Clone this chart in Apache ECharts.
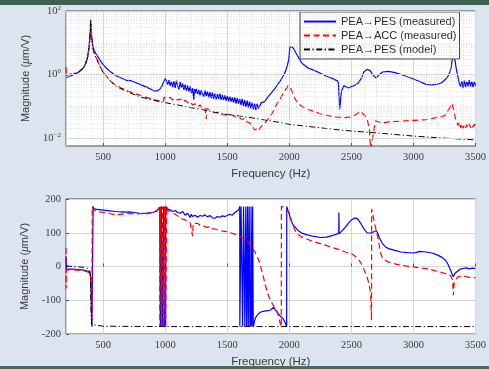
<!DOCTYPE html>
<html><head><meta charset="utf-8">
<script src="https://cdn.jsdelivr.net/npm/echarts@6/dist/echarts.min.js"></script>
<style>html,body{margin:0;padding:0;background:#dce5ef;}#c{width:489px;height:369px;}</style>
</head><body><div id="c"></div>
<script>
const seriesNames = ['PEA→PES (measured)', 'PEA→ACC (measured)', 'PEA→PES (model)'];

// Frequency tick labels / grid
const freqMajorTicks = [500, 1000, 1500, 2000, 2500, 3000, 3500];
const freqMinorGrid = [300,400,600,700,800,900,1100,1200,1300,1400,1600,1700,1800,1900,2100,2200,2300,2400,2600,2700,2800,2900,3100,3200,3300,3400];
const magMajorGrid = [0.01, 1, 100];
const magMinorGrid = [0.006,0.007,0.008,0.009,0.02,0.03,0.04,0.05,0.06,0.07,0.08,0.09,0.1,0.2,0.3,0.4,0.5,0.6,0.7,0.8,0.9,2,3,4,5,6,7,8,9,10,20,30,40,50,60,70,80,90];
const phaseTicks = [-200, -100, 0, 100, 200];

// ---- Magnitude: PEA->PES measured (blue)
const blueMagFreq = [200,250,300,340,360,375,385,393,398,400,403,408,415,425,440,460,480,500,525,550,575,600,650,690,700,720,760,800,850,880,900,920,940,960,975,990,1000,1005,
1010,1020,1030,1040,1050,1060,1070,1080,1090,1100,1110,1120,1130,1140,1150,1160,1170,1180,1190,1200,1210,1220,1230,1235,1240,1250,1260,1270,1280,1290,1300,1310,1320,1330,1340,1350,1360,1370,1380,1390,1400,1410,1420,1430,1440,1450,1460,1470,1480,1490,1500,1510,1520,1530,1540,1550,1560,1570,1580,1590,1600,1610,1620,1630,1640,1650,1660,1670,1680,1690,1700,1710,1720,1730,1740,1750,
1775,1800,1825,1850,1875,1900,1925,1950,1970,1985,1995,2000,2005,2015,2030,2050,2075,2100,2150,2200,2250,2300,2350,2390,2395,2398,2401,2405,2420,2440,2460,2480,2500,2525,2550,2575,2590,2600,2605,2610,2625,2650,2675,2700,2720,2750,2800,2850,2900,2950,3000,3050,3100,3150,3200,3230,3260,3280,3295,3305,3310,3315,3325,3335,3345,3360,3370,3380,3390,3400,3410,3420,3430,3440,3450,3460,3470,3480,3490,3500];
const blueMagVal = [0.79,0.95,1.17,1.6,2.3,3.6,6.5,14,30,40,26,13,8.5,6.0,4.6,3.5,2.6,2.05,1.6,1.3,1.1,0.92,0.76,0.65,0.68,0.64,0.56,0.48,0.40,0.35,0.32,0.30,0.31,0.36,0.45,0.62,0.75,0.66,
0.62,0.48,0.66,0.44,0.60,0.40,0.62,0.38,0.64,0.43,0.34,0.58,0.38,0.52,0.33,0.48,0.31,0.45,0.29,0.42,0.26,0.37,0.16,0.35,0.26,0.35,0.24,0.33,0.22,0.32,0.24,0.20,0.31,0.21,0.29,0.19,0.28,0.18,0.27,0.17,0.25,0.165,0.24,0.17,0.25,0.16,0.23,0.155,0.22,0.15,0.21,0.145,0.20,0.14,0.19,0.13,0.19,0.12,0.18,0.12,0.17,0.11,0.17,0.10,0.16,0.095,0.15,0.09,0.14,0.085,0.13,0.08,0.12,0.075,0.12,0.085,0.13,0.14,
0.19,0.25,0.33,0.45,0.62,0.9,1.3,2.0,3.0,5.0,7.5,8.2,7.0,5.0,3.3,2.3,1.6,1.35,1.1,0.88,0.74,0.62,0.52,0.46,0.2,0.08,0.3,0.45,0.40,0.38,0.42,0.45,0.52,0.7,0.95,1.2,1.3,1.25,1.45,1.35,0.95,0.78,0.95,1.2,1.25,1.15,1.0,0.85,0.72,0.6,0.49,0.47,0.50,0.56,0.72,0.9,1.25,1.7,2.6,3.6,4.0,2.8,1.5,0.8,0.5,0.42,0.62,0.38,0.64,0.40,0.60,0.42,0.66,0.42,0.60,0.40,0.58,0.44,0.62,0.46];

// ---- Magnitude: PEA->ACC measured (red)
const redMagFreq = [200,203,210,250,300,340,360,375,385,393,398,400,403,408,415,425,440,460,480,500,525,550,575,600,650,700,750,800,850,900,950,985,990,1000,1020,
1040,1060,1080,1100,1120,1140,1160,1180,1200,1220,1240,1260,1280,1300,1320,1330,1335,1350,1380,1400,1430,1460,1500,1530,1560,1600,1620,1640,1660,1680,1700,1710,1720,1730,1740,1750,1765,1780,1800,1825,1850,1875,1900,1925,1950,1975,1990,2000,2010,2025,2050,2075,2100,2150,2200,2250,2300,2350,2400,2450,2500,2525,2550,2575,2590,2610,2630,2645,2655,2665,2675,2685,2695,2705,2720,2750,2800,2900,3000,3100,3200,3250,3280,3300,3310,3320,3330,3340,3350,3360,3370,3380,3390,3400,3410,3420,3430,3440,3450,3460,3470,3480,3490,3500];
const redMagVal = [1.7,1.05,0.95,1.0,1.15,1.6,2.3,3.7,7,16,40,55,30,13,7.5,5,3.6,2.4,1.6,1.17,0.9,0.68,0.55,0.46,0.37,0.30,0.255,0.22,0.19,0.165,0.145,0.14,0.19,0.185,0.175,
0.19,0.16,0.18,0.155,0.17,0.14,0.155,0.13,0.14,0.11,0.12,0.095,0.11,0.085,0.09,0.04,0.085,0.078,0.07,0.062,0.066,0.055,0.052,0.055,0.047,0.043,0.038,0.042,0.032,0.030,0.024,0.026,0.018,0.016,0.020,0.017,0.021,0.025,0.029,0.038,0.052,0.075,0.12,0.17,0.25,0.36,0.45,0.47,0.38,0.26,0.16,0.12,0.098,0.08,0.068,0.058,0.052,0.047,0.045,0.044,0.047,0.052,0.06,0.068,0.066,0.05,0.035,0.018,0.0045,0.004,0.012,0.022,0.035,0.040,0.032,0.030,0.032,0.034,0.036,0.038,0.045,0.05,0.075,0.1,0.12,0.09,0.06,0.038,0.030,0.025,0.032,0.021,0.028,0.02,0.027,0.021,0.026,0.022,0.028,0.021,0.026,0.022,0.027,0.024];

// ---- Magnitude: PEA->PES model (black)
const modelMagFreq = [200,250,300,340,360,375,385,393,398,400,403,408,415,425,440,460,480,500,550,600,700,800,900,1000,1100,1200,1300,1400,1500,1600,1700,1800,1900,2000,2200,2400,2500,2700,3000,3200,3500];
const modelMagVal = [0.95,1.05,1.2,1.6,2.3,3.8,7,16,40,55,30,13,7.5,5,3.5,2.4,1.6,1.15,0.68,0.43,0.28,0.195,0.155,0.13,0.11,0.091,0.078,0.064,0.055,0.049,0.043,0.037,0.032,0.027,0.022,0.018,0.0166,0.0145,0.0115,0.0102,0.0087];

// ---- Phase: PEA->PES measured (blue)
const bluePhFreq = [200,203,210,250,300,350,380,395,400,403,406,409,418,418.5,425,450,500,550,600,650,690,700,710,750,800,850,900,930,945,955,960,961,967,968,975,976,985,986,992,993,1000,1003,1004,1010,1020,1040,1060,1080,1100,1120,1140,1160,1180,1200,1210,1220,1240,1260,1280,1300,1320,1340,1360,1380,1400,1420,1440,1460,1480,1500,1520,1540,1560,1580,1595,
1600,1601,1610,1611,1622,1623,1630,1631,1640,1641,1648,1649,1655,1656,1662,1663,1668,1669,1675,1676,1682,1683,1690,1691,1697,1698,1703,1704,1708,1709,1715,1720,1730,1740,1750,1775,1800,1825,1850,1870,1890,1910,1930,1950,1965,1978,1979,1985,1995,2010,2030,2050,2075,2100,2150,2200,2250,2300,2350,2380,2398,2399,2401,2420,2450,2475,2500,2525,2550,2575,2600,2625,2640,2660,2680,2700,2710,2725,2750,2775,2800,2850,2900,2950,3000,3010,3025,3050,3100,3150,3200,3230,3260,3280,3300,3320,3335,3350,3375,3400,3425,3450,3475,3500];
const bluePhVal = [30,-8,-10,-8,-9,-11,-14,-20,-35,-80,-150,-178,-178,178,172,169,167,165,163,162,161,165,162,160,157,158,160,164,170,176,178,-178,-178,178,178,-178,-178,178,178,-178,-150,-178,178,175,170,168,163,166,160,158,163,152,158,145,155,148,152,146,151,149,153,147,151,144,143,148,146,150,148,151,155,152,160,164,170,
178,-178,-175,178,176,-178,-176,178,178,-178,-176,178,177,-178,-175,178,178,-178,-176,178,177,-178,-172,178,178,-178,-177,178,178,-178,-170,-160,-150,-145,-140,-134,-132,-131,-129,-121,-130,-140,-148,-155,-165,-178,178,170,160,140,123,115,105,99,93,89,86,87,92,96,98,160,98,104,116,128,138,144,141,128,112,100,96,99,103,106,100,85,68,58,53,48,43,41,40,45,42,45,43,40,33,27,18,5,-12,-30,-20,-15,-8,-6,-4,-7,-5,-6];

// ---- Phase: PEA->ACC measured (red)
const redPhFreq = [200,201,203,210,250,300,350,380,395,400,403,406,409,411,411.5,420,450,500,550,600,650,700,750,800,850,900,930,950,955,956,962,963,970,971,978,979,986,987,994,995,1002,1003,1010,1011,1020,1040,1060,1080,1100,1120,1140,1160,1180,1200,1210,1220,1225,1240,1260,1280,1300,1320,1340,1360,1380,1400,1420,1440,1460,1480,1500,1520,1540,1560,1580,1600,1620,1640,1660,1680,1700,1720,1740,1760,1780,1800,1825,1850,1875,1900,1915,1925,1935,1936,1950,1965,1980,2000,2020,2050,2075,2100,2150,2200,2250,2300,2350,2400,2450,2500,2525,2550,2575,2600,2620,2640,2655,2662,2663,2670,2685,2700,2715,2735,2750,2775,2800,2850,2900,2950,3000,3050,3100,3150,3200,3250,3300,3315,3322,3328,3340,3360,3400,3450,3500];
const redPhVal = [55,-65,-10,-12,-10,-11,-13,-17,-25,-40,-90,-160,-178,-178,178,170,163,160,157,153,155,157,156,157,156,160,166,172,178,-178,-178,178,178,-178,-178,178,178,-178,-176,178,178,-178,-178,178,166,163,158,155,150,145,140,138,132,130,134,90,128,125,128,122,121,118,116,118,112,111,109,107,105,104,103,101,98,96,92,88,84,80,75,68,55,45,30,12,-15,-45,-80,-102,-118,-132,-150,-168,-178,178,176,174,170,158,130,104,94,87,80,73,68,62,56,50,43,38,32,24,12,-8,-25,-48,-80,-160,170,160,130,108,82,40,25,18,13,8,4,1,-1,-4,-6,-10,-15,-20,-27,-40,-85,-45,-38,-30,-28,-32,-33];

// ---- Phase: PEA->PES model (black)
const modelPhFreq = [200,250,300,350,380,392,397,400,403,408,420,500,1000,2000,3500];
const modelPhVal = [2,0,-1,-3,-6,-12,-40,-90,-150,-172,-176,-177,-178,-178,-178];

const zip = (f, v) => f.map((x, i) => [x, v[i]]);
const colors = ['#0000ff', '#ff0000', '#000000'];
const dashes = ['solid', [6, 3.5], [6, 2.5, 1.2, 2.5]];
const widths = [1.2, 1.2, 1];
const txt = '#3a3a3a';
const serif = 'Liberation Serif';
const sans = 'Liberation Sans';

function mkSeries(idx, data, axis) {
  return {
    name: seriesNames[idx], type: 'line', xAxisIndex: axis, yAxisIndex: axis,
    data: data, showSymbol: false, symbol: 'none', animation: false, clip: true, z: 3,
    lineStyle: { color: colors[idx], width: widths[idx], type: dashes[idx] },
    itemStyle: { color: colors[idx] }
  };
}

const gridLines = [];
magMinorGrid.forEach(v => gridLines.push({ yAxis: v, lineStyle: { color: '#cfcfcf', width: 0.6, type: [1, 1.5] } }));
freqMinorGrid.forEach(v => gridLines.push({ xAxis: v, lineStyle: { color: '#cfcfcf', width: 0.6, type: [1, 1.5] } }));
magMajorGrid.forEach(v => gridLines.push({ yAxis: v, lineStyle: { color: '#d6d6d6', width: 1, type: 'solid' } }));

const xAxisCommon = {
  type: 'value', min: 200, max: 3500,
  name: 'Frequency (Hz)', nameLocation: 'middle',
  nameTextStyle: { fontFamily: sans, fontSize: 11.5, color: txt },
  axisLine: { show: false },
  axisTick: { show: true, inside: true, length: 3, lineStyle: { color: '#555' } },
  axisLabel: {
    fontFamily: serif, fontSize: 10.5, color: txt, margin: 6, showMinLabel: false, showMaxLabel: true,
    formatter: v => (freqMajorTicks.indexOf(v) >= 0 ? String(v) : '')
  },
  splitLine: { show: true, lineStyle: { color: '#d6d6d6', width: 1 } }
};

const yName = 'Magnitude ({i|μ}m/V)';
const yNameStyle = { fontFamily: sans, fontSize: 11, color: txt, rich: { i: { fontFamily: serif, fontStyle: 'italic', fontSize: 11.5, color: txt } } };

const option = {
  backgroundColor: '#dce5ef',
  animation: false,
  grid: [
    { left: 66, top: 11, right: 4, height: 135, show: true, backgroundColor: '#fff', borderColor: '#4a4a4a', borderWidth: 1 },
    { left: 66, top: 199, right: 4, height: 136, show: true, backgroundColor: '#fff', borderColor: '#4a4a4a', borderWidth: 1 }
  ],
  legend: {
    data: seriesNames, orient: 'vertical', left: 300, top: 12,
    backgroundColor: '#fff', borderColor: '#333', borderWidth: 1, borderRadius: 0,
    padding: [4, 3, 4, 3], itemGap: 3, itemWidth: 32, itemHeight: 10,
    itemStyle: { opacity: 0 },
    textStyle: { fontFamily: sans, fontSize: 11, color: '#222' }, selectedMode: false
  },
  xAxis: [
    Object.assign({}, xAxisCommon, { gridIndex: 0, nameGap: 22 }),
    Object.assign({}, xAxisCommon, { gridIndex: 1, nameGap: 22 })
  ],
  yAxis: [
    {
      gridIndex: 0, type: 'log', logBase: 10, min: 0.0056, max: 100,
      name: yName, nameLocation: 'middle', nameGap: 31, nameTextStyle: yNameStyle,
      axisLine: { show: false }, axisTick: { show: false },
      splitLine: { show: false },
      axisLabel: {
        fontFamily: serif, fontSize: 10.5, color: txt, margin: 5,
        formatter: function (v) {
          const l = Math.log10(v), e = Math.round(l);
          if (Math.abs(l - e) > 1e-6 || e % 2 !== 0) return '';
          return '{b|10}{s|' + (e < 0 ? '−' : '') + Math.abs(e) + '}';
        },
        rich: { b: { fontFamily: serif, fontSize: 10.5, color: txt }, s: { fontFamily: serif, fontSize: 7, color: txt, verticalAlign: 'top', padding: [0, 0, 6, 0] } }
      }
    },
    {
      gridIndex: 1, type: 'value', min: -200, max: 200, interval: 100,
      name: yName, nameLocation: 'middle', nameGap: 31, nameTextStyle: yNameStyle,
      axisLine: { show: false },
      axisTick: { show: true, inside: true, length: 3, lineStyle: { color: '#555' } },
      splitLine: { show: true, lineStyle: { color: '#d6d6d6', width: 1 } },
      axisLabel: { fontFamily: serif, fontSize: 10.5, color: txt, margin: 5, formatter: v => (phaseTicks.indexOf(v) >= 0 ? String(v) : '') }
    }
  ],
  graphic: [
    { type: 'rect', z: 100, shape: { x: 0, y: 0, width: 489, height: 5 }, style: { fill: '#3f5f55' } },
    { type: 'rect', z: 100, shape: { x: 0, y: 366, width: 489, height: 3 }, style: { fill: '#4a6a5e' } }
  ],
  series: [
    { name: 'grid', type: 'line', xAxisIndex: 0, yAxisIndex: 0, data: [], z: 1, silent: true,
      markLine: { silent: true, symbol: 'none', animation: false, label: { show: false }, data: gridLines } },
    mkSeries(0, zip(blueMagFreq, blueMagVal), 0),
    mkSeries(1, zip(redMagFreq, redMagVal), 0),
    mkSeries(2, zip(modelMagFreq, modelMagVal), 0),
    mkSeries(0, zip(bluePhFreq, bluePhVal), 1),
    mkSeries(1, zip(redPhFreq, redPhVal), 1),
    mkSeries(2, zip(modelPhFreq, modelPhVal), 1)
  ]
};

const chart = echarts.init(document.getElementById('c'), null, { renderer: 'canvas' });
chart.setOption(option);
</script></body></html>
